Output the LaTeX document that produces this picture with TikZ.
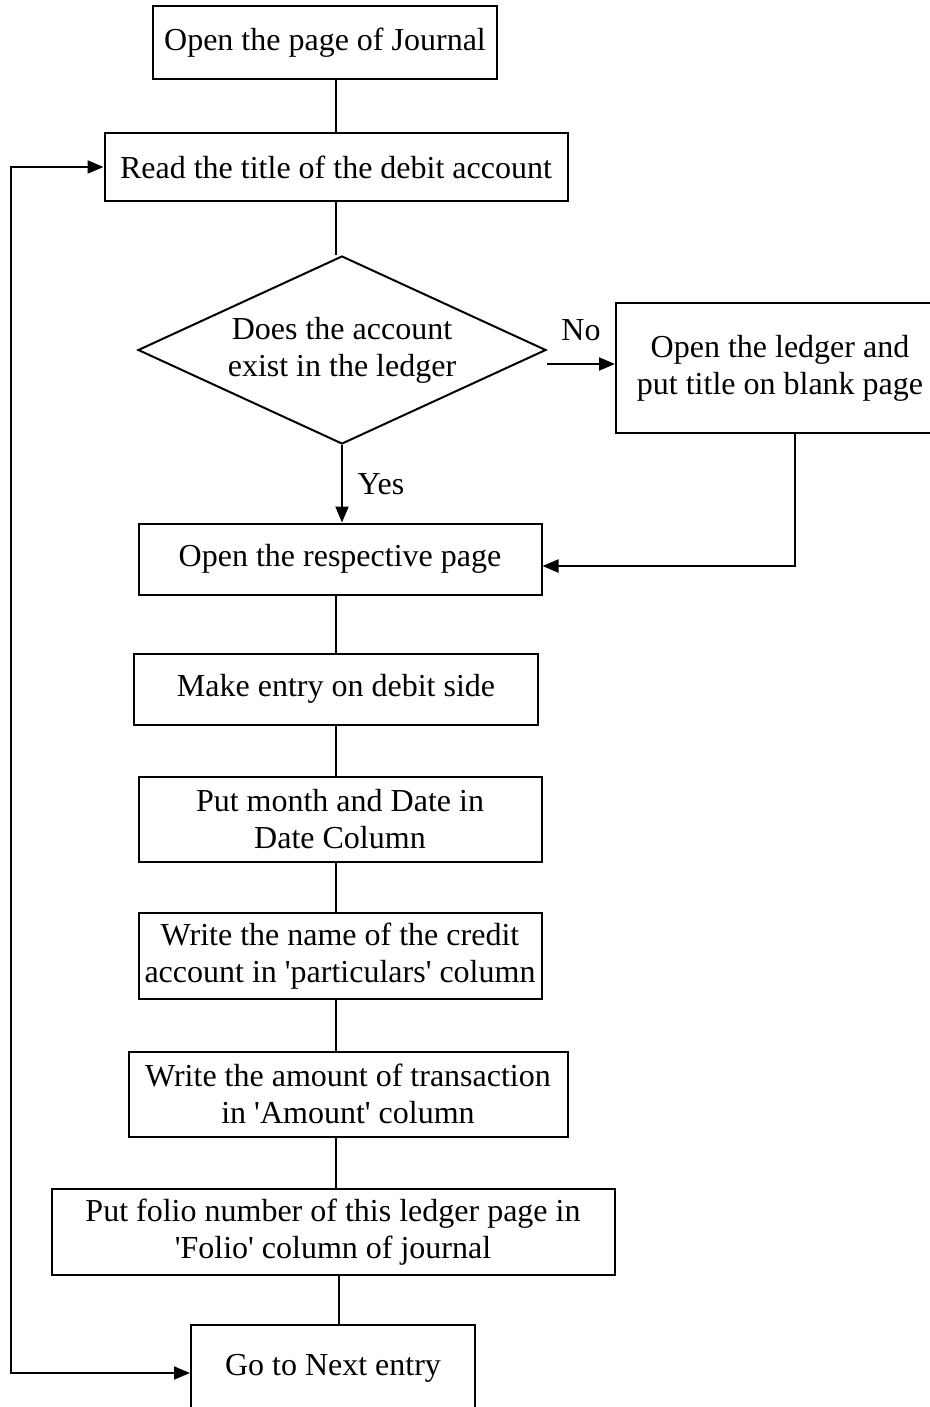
\documentclass[tikz,border=0pt]{standalone}
\usepackage{fontspec}
\setmainfont{Liberation Serif}
\usetikzlibrary{shapes.geometric, arrows.meta}

\tikzset{
    stepbox/.style={draw, line width=1pt, align=center, inner sep=0pt,
        font=\fontsize{16}{18.5}\selectfont},
    decision/.style={diamond, aspect=2.17, draw, line width=1pt, align=center, inner sep=0pt,
        font=\fontsize{16}{18.5}\selectfont},
    conn/.style={line width=1pt},
    arr/.style={conn, -{Triangle[length=8pt, width=6.5pt]}},
    lbl/.style={font=\fontsize{16}{18.5}\selectfont}
}

\begin{document}
\begin{tikzpicture}[x=0.5pt, y=-0.5pt]
    % Page size of the reference
    \useasboundingbox (0, 0) rectangle (930, 1407);

    % Boxes of the flow
    \node[stepbox, minimum width=172pt, minimum height=36.5pt] (journal) at (325, 43) {Open the page of Journal};
    \node[stepbox, minimum width=231.5pt, minimum height=34pt] (title) at (336, 167) {Read the title of the debit account};
    \node[decision, minimum width=204pt, minimum height=94pt] (exist) at (342, 350) {Does the account\\exist in the ledger};
    \node[stepbox, minimum width=164pt, minimum height=65pt] (blank) at (780, 368) {Open the ledger and\\put title on blank page};
    \node[stepbox, minimum width=201.5pt, minimum height=35.5pt] (page) at (340, 559) {Open the respective page};
    \node[stepbox, minimum width=202pt, minimum height=35.5pt] (debit) at (336, 689) {Make entry on debit side};
    \node[stepbox, minimum width=201.5pt, minimum height=42.5pt] (date) at (340, 819) {Put month and Date in\\Date Column};
    \node[stepbox, minimum width=201.5pt, minimum height=43pt] (credit) at (340, 956) {Write the name of the credit\\account in \textquotesingle particulars\textquotesingle{} column};
    \node[stepbox, minimum width=219.5pt, minimum height=42.5pt] (amount) at (348, 1094) {Write the amount of transaction\\in \textquotesingle Amount\textquotesingle{} column};
    \node[stepbox, minimum width=281.5pt, minimum height=43pt] (folio) at (333, 1232) {Put folio number of this ledger page in\\\textquotesingle Folio\textquotesingle{} column of journal};
    \node[stepbox, minimum width=142pt, minimum height=43pt] (next) at (333, 1368) {Go to Next entry};

    % Plain links
    \draw[conn] (title.north) -- (title.north |- journal.south);
    \draw[conn] (title.south) -- (title.south |- exist.north);
    \draw[conn] (debit.north) -- (debit.north |- page.south);
    \draw[conn] (debit.south) -- (debit.south |- date.north);
    \draw[conn] (debit.south |- date.south) -- (debit.south |- credit.north);
    \draw[conn] (debit.south |- credit.south) -- (debit.south |- amount.north);
    \draw[conn] (debit.south |- amount.south) -- (debit.south |- folio.north);
    \draw[conn] ([xshift=3pt]next.north) -- ([xshift=3pt]next.north |- folio.south);

    % Decision branches
    \draw[arr] ([yshift=-7pt]exist.east) -- ([yshift=-7pt]blank.west |- exist.east) node[lbl, midway, above=8pt] {No};
    \draw[arr] (exist.south) -- (exist.south |- page.north) node[lbl, midway, right=4pt] {Yes};
    \draw[arr] ([xshift=7.5pt]blank.south) |- ([yshift=-3.5pt]page.east);

    % Loop back to the next entry
    \draw[conn, {Triangle[length=8pt, width=6.5pt]}-{Triangle[length=8pt, width=6.5pt]}] ([yshift=-2.5pt]next.west) -- ++(-179, 0) |- (title.west);
\end{tikzpicture}
\end{document}
